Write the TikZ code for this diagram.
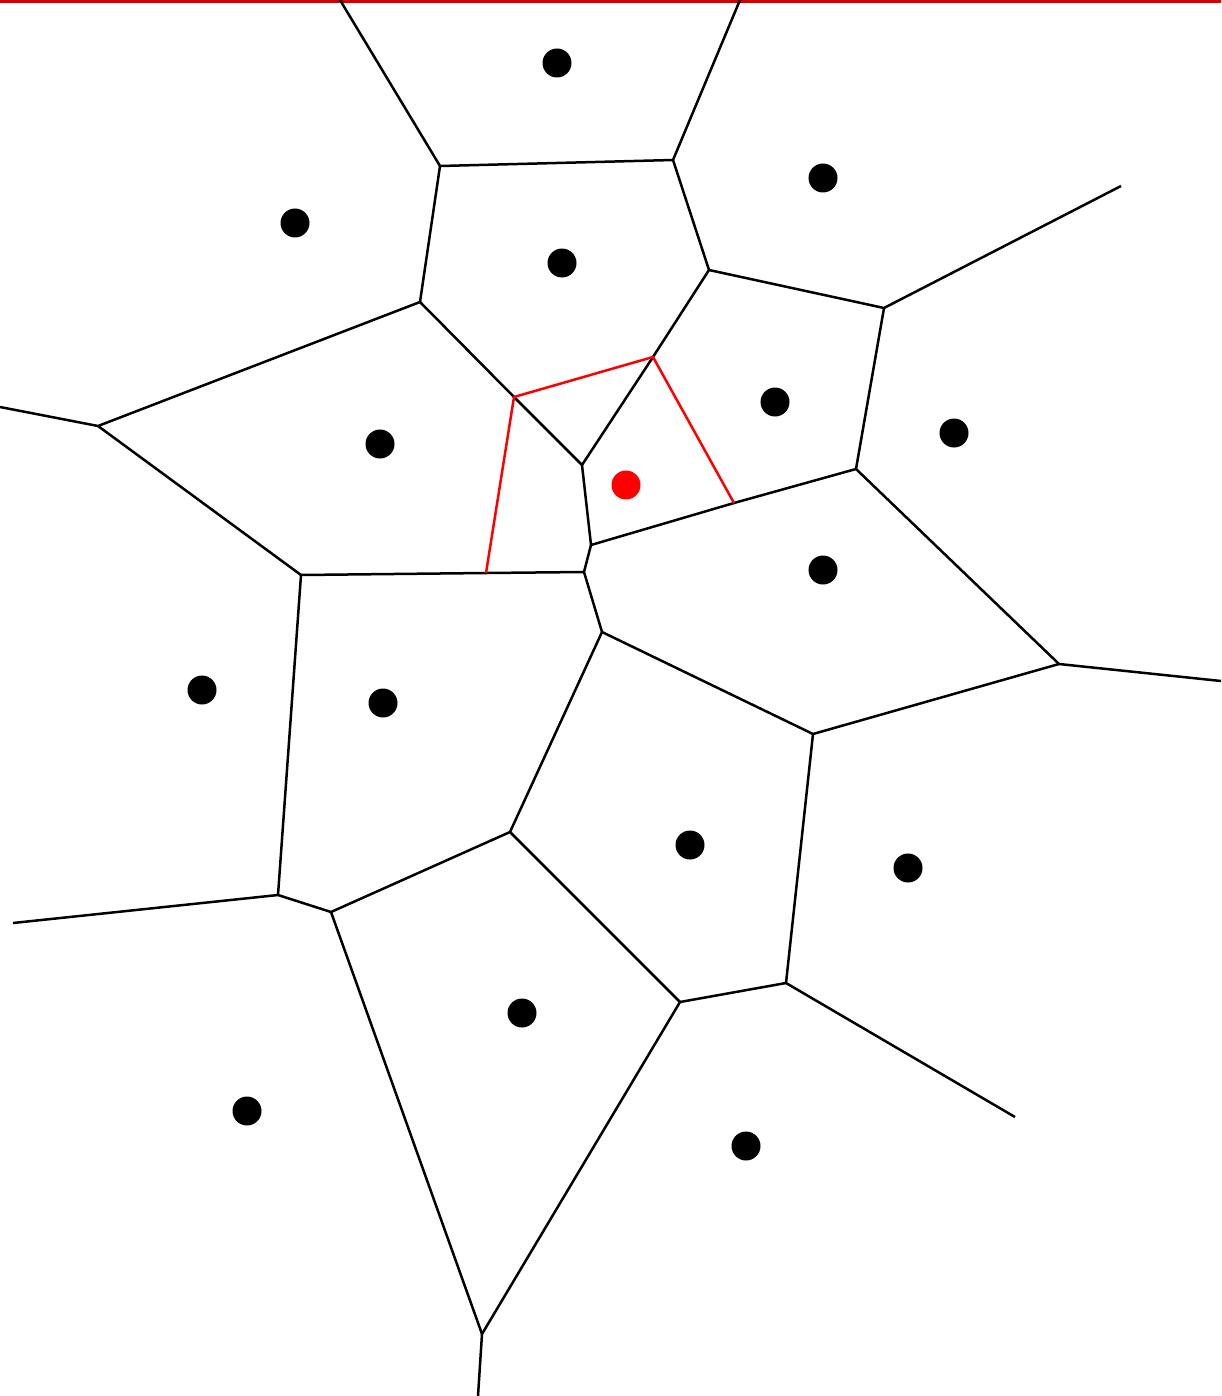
\documentclass[tikz,border=0pt]{standalone}
\begin{document}
\begin{tikzpicture}[x=0.5pt,y=-0.5pt,
  edge/.style={line width=1.25pt,line join=round,black},
  redge/.style={line width=1.25pt,line join=round,red},
  site/.style={circle,fill=black,inner sep=0pt,minimum size=14.5pt},
  rsite/.style={circle,fill=red,inner sep=0pt,minimum size=14.5pt}]
\definecolor{topred}{RGB}{210,0,0}
\useasboundingbox (0,0) rectangle (1221,1396);
\fill[topred] (0,0) rectangle (1221,3);
% vertices
\coordinate (t1) at (340,0);
\coordinate (t2) at (740,0);
\coordinate (v1) at (440,166);
\coordinate (v2) at (673,160);
\coordinate (v3) at (420,302);
\coordinate (v4) at (709,270);
\coordinate (v5) at (884,308);
\coordinate (e1) at (1121,186);
\coordinate (v6) at (856,469);
\coordinate (r1) at (653,357);
\coordinate (r2) at (514,397);
\coordinate (v7) at (582,465);
\coordinate (v8) at (98,426);
\coordinate (e2) at (0,407);
\coordinate (v9) at (301,575);
\coordinate (v10) at (591,545);
\coordinate (r3) at (734,503);
\coordinate (v11) at (1059,664);
\coordinate (e3) at (1221,681);
\coordinate (v12) at (584,572);
\coordinate (r4) at (486,573);
\coordinate (v13) at (602,632);
\coordinate (v14) at (813,734);
\coordinate (v15) at (510,832);
\coordinate (v16) at (278,895);
\coordinate (e4) at (13,923);
\coordinate (v17) at (331,912);
\coordinate (v18) at (680,1002);
\coordinate (v19) at (786,983);
\coordinate (e5) at (1015,1117);
\coordinate (v20) at (482,1334);
\coordinate (e6) at (478,1396);
% black edges
\draw[edge] (t1) -- (v1) -- (v2) -- (t2);
\draw[edge] (v1) -- (v3);
\draw[edge] (v2) -- (v4) -- (v5) -- (e1);
\draw[edge] (v5) -- (v6);
\draw[edge] (v4) -- (r1) -- (v7);
\draw[edge] (v3) -- (r2) -- (v7);
\draw[edge] (v3) -- (v8) -- (e2);
\draw[edge] (v8) -- (v9);
\draw[edge] (v7) -- (v10) -- (r3) -- (v6);
\draw[edge] (v6) -- (v11) -- (e3);
\draw[edge] (v10) -- (v12);
\draw[edge] (v9) -- (r4) -- (v12);
\draw[edge] (v12) -- (v13) -- (v14) -- (v11);
\draw[edge] (v13) -- (v15);
\draw[edge] (v9) -- (v16) -- (e4);
\draw[edge] (v16) -- (v17) -- (v15);
\draw[edge] (v15) -- (v18);
\draw[edge] (v14) -- (v19) -- (v18);
\draw[edge] (v19) -- (e5);
\draw[edge] (v17) -- (v20) -- (v18);
\draw[edge] (v20) -- (e6);
% red edges
\draw[redge] (r4) -- (r2) -- (r1) -- (r3);
% sites
\node[site] (s1) at (557,63) {};
\node[site] (s2) at (823,178) {};
\node[site] (s3) at (295,223) {};
\node[site] (s4) at (562,263) {};
\node[site] (s5) at (380,444) {};
\node[site] (s6) at (775,402) {};
\node[site] (s7) at (954,433) {};
\node[site] (s8) at (823,570) {};
\node[site] (s9) at (202,690) {};
\node[site] (s10) at (383,703) {};
\node[site] (s11) at (690,845) {};
\node[site] (s12) at (908,868) {};
\node[site] (s13) at (522,1013) {};
\node[site] (s14) at (247,1111) {};
\node[site] (s15) at (746,1146) {};
\node[rsite] (s0) at (626,485) {};
\end{tikzpicture}
\end{document}
